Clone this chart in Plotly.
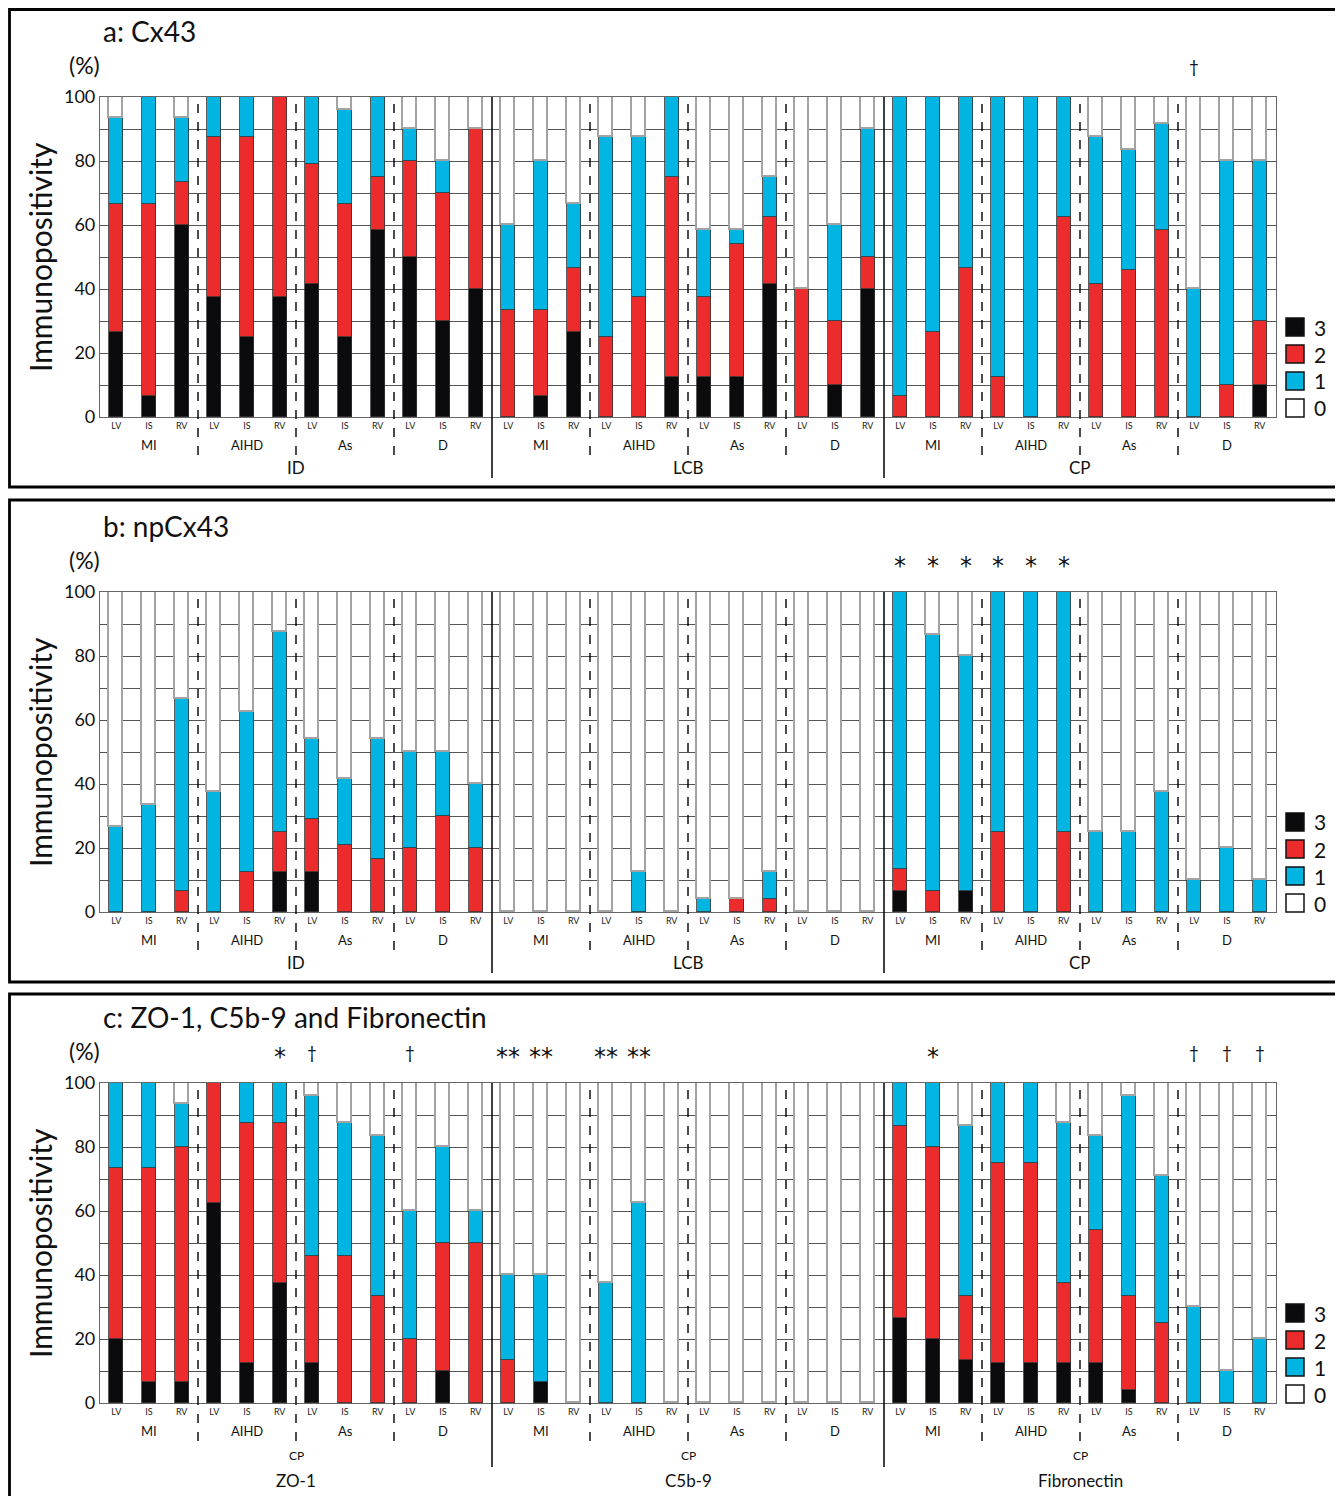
import plotly.graph_objects as go

W, H = 1343, 1496
FONT = "Lato"
OFF = 8  # page body margin compensation (px)

# ---------------- data ----------------
positions = ["LV", "IS", "RV"]
subgroups = ["MI", "AIHD", "As", "D"]
groups_ab = ["ID", "LCB", "CP"]
groups_c = ["ZO-1", "C5b-9", "Fibronectin"]
scores = ["3", "2", "1", "0"]

# Panel a: Cx43 (percent of cases with score 3 / 2 / 1)
cx43_s3 = [26.7, 6.7, 60, 37.5, 25, 37.5, 41.7, 25, 58.3, 50, 30, 40,
           0, 6.7, 26.7, 0, 0, 12.5, 12.5, 12.5, 41.7, 0, 10, 40,
           0, 0, 0, 0, 0, 0, 0, 0, 0, 0, 0, 10]
cx43_s2 = [40, 60, 13.3, 50, 62.5, 62.5, 37.5, 41.7, 16.7, 30, 40, 50,
           33.3, 26.7, 20, 25, 37.5, 62.5, 25, 41.7, 20.8, 40, 20, 10,
           6.7, 26.7, 46.7, 12.5, 0, 62.5, 41.7, 45.8, 58.3, 0, 10, 20]
cx43_s1 = [26.7, 33.3, 20, 12.5, 12.5, 0, 20.8, 29.2, 25, 10, 10, 0,
           26.7, 46.7, 20, 62.5, 50, 25, 20.8, 4.2, 12.5, 0, 30, 40,
           93.3, 73.3, 53.3, 87.5, 100, 37.5, 45.8, 37.5, 33.3, 40, 70, 50]

# Panel b: npCx43
np_s3 = [0, 0, 0, 0, 0, 12.5, 12.5, 0, 0, 0, 0, 0,
         0, 0, 0, 0, 0, 0, 0, 0, 0, 0, 0, 0,
         6.7, 0, 6.7, 0, 0, 0, 0, 0, 0, 0, 0, 0]
np_s2 = [0, 0, 6.7, 0, 12.5, 12.5, 16.7, 20.8, 16.7, 20, 30, 20,
         0, 0, 0, 0, 0, 0, 0, 4.2, 4.2, 0, 0, 0,
         6.7, 6.7, 0, 25, 0, 25, 0, 0, 0, 0, 0, 0]
np_s1 = [26.7, 33.3, 60, 37.5, 50, 62.5, 25, 20.8, 37.5, 30, 20, 20,
         0, 0, 0, 0, 12.5, 0, 4.2, 0, 8.3, 0, 0, 0,
         86.7, 80, 73.3, 75, 100, 75, 25, 25, 37.5, 10, 20, 10]

# Panel c: ZO-1, C5b-9, Fibronectin
c_s3 = [20, 6.7, 6.7, 62.5, 12.5, 37.5, 12.5, 0, 0, 0, 10, 0,
        0, 6.7, 0, 0, 0, 0, 0, 0, 0, 0, 0, 0,
        26.7, 20, 13.3, 12.5, 12.5, 12.5, 12.5, 4.2, 0, 0, 0, 0]
c_s2 = [53.3, 66.7, 73.3, 37.5, 75, 50, 33.3, 45.8, 33.3, 20, 40, 50,
        13.3, 0, 0, 0, 0, 0, 0, 0, 0, 0, 0, 0,
        60, 60, 20, 62.5, 62.5, 25, 41.7, 29.2, 25, 0, 0, 0]
c_s1 = [26.7, 26.7, 13.3, 0, 12.5, 12.5, 50, 41.7, 50, 40, 30, 10,
        26.7, 33.3, 0, 37.5, 62.5, 0, 0, 0, 0, 0, 0, 0,
        13.3, 20, 53.3, 25, 25, 50, 29.2, 62.5, 45.8, 30, 10, 20]

# significance marks: (bar index, symbol)
marks_a = [(33, "†")]
marks_b = [(24, "*"), (25, "*"), (26, "*"), (27, "*"), (28, "*"), (29, "*")]
marks_c = [(5, "*"), (6, "†"), (9, "†"), (12, "**"), (13, "**"), (15, "**"),
           (16, "**"), (25, "*"), (33, "†"), (34, "†"), (35, "†")]

titles = ["a: Cx43", "b: npCx43", "c: ZO-1, C5b-9 and Fibronectin"]

# ---------------- style ----------------
BLACK = "#0b0b0d"
RED = "#ec2c2c"
CYAN = "#00b5e2"
colors = [BLACK, RED, CYAN, "#ffffff"]

plot_left, plot_right = 100, 1276
tops = [97, 592, 1083]
bottoms = [417, 912, 1403]
boxes = [(9.5, 9.5, 1337, 487), (9.5, 500, 1337, 982), (9.5, 994, 1337, 1510)]


def px(v):
    return (v - OFF) / W


def py(v):
    return 1 - (v - OFF) / H


fig = go.Figure()
annotations = []
shapes = []

panels = [
    (cx43_s3, cx43_s2, cx43_s1, marks_a, groups_ab),
    (np_s3, np_s2, np_s1, marks_b, groups_ab),
    (c_s3, c_s2, c_s1, marks_c, groups_c),
]

n = 36
xs = list(range(n))
ticktext = positions * 12

for p, (s3, s2, s1, marks, gnames) in enumerate(panels):
    xa = "x" if p == 0 else f"x{p + 1}"
    ya = "y" if p == 0 else f"y{p + 1}"
    s0 = [max(0.0, round(100 - a - b - c, 2)) for a, b, c in zip(s3, s2, s1)]
    for vals, col, name in zip([s3, s2, s1, s0], colors, scores):
        fig.add_trace(go.Bar(
            x=xs, y=vals, width=0.42, name=name,
            marker=dict(color=col,
                        line=dict(color="#a3a3a3" if name == "0" else "#333333",
                                  width=1.8 if name == "0" else 0.8)),
            xaxis=xa, yaxis=ya, showlegend=False,
        ))

    top, bot = tops[p], bottoms[p]
    layout_x = dict(
        domain=[px(plot_left), px(plot_right)], range=[-0.5, n - 0.5],
        tickvals=xs, ticktext=ticktext, tickfont=dict(size=9, color="#222", family=FONT),
        ticks="", showgrid=False, zeroline=False, showline=True, mirror=True,
        linecolor="#666", linewidth=1.2, anchor=ya, fixedrange=True, automargin=False,
    )
    layout_y = dict(
        domain=[py(bot), py(top)], range=[0, 100],
        tickvals=list(range(0, 101, 10)),
        ticktext=[str(v) if v % 20 == 0 else "" for v in range(0, 101, 10)],
        tickfont=dict(size=18, color="#111", family=FONT),
        showgrid=True, gridcolor="#555555", gridwidth=1.2,
        zeroline=False, showline=True, mirror=True, linecolor="#666",
        linewidth=1.2, ticks="", anchor=xa, fixedrange=True, automargin=False,
    )
    fig.update_layout(**{("xaxis" if p == 0 else f"xaxis{p + 1}"): layout_x,
                         ("yaxis" if p == 0 else f"yaxis{p + 1}"): layout_y})

    # panel frame
    x0, y0, x1, y1 = boxes[p]
    shapes.append(dict(type="rect", xref="paper", yref="paper",
                       x0=px(x0), x1=px(x1), y0=py(y1), y1=py(y0),
                       line=dict(color="black", width=2.8)))

    # title, unit, y title
    annotations.append(dict(text=titles[p], xref="paper", yref="paper",
                            x=px(101), y=py(top - 66), xanchor="left", yanchor="middle",
                            showarrow=False, font=dict(size=28, family=FONT, color="#111")))
    annotations.append(dict(text="(%)", xref="paper", yref="paper",
                            x=px(84), y=py(top - 32), xanchor="center", yanchor="middle",
                            showarrow=False, font=dict(size=23, family=FONT, color="#111")))
    annotations.append(dict(text="Immunopositivity", xref="paper", yref="paper",
                            x=px(40), y=py((top + bot) / 2), textangle=-90,
                            xanchor="center", yanchor="middle", showarrow=False,
                            font=dict(size=30, family=FONT, color="#111")))

    # separators
    lower_dash = bot + 38
    lower_solid = bot + 61 if p < 2 else bot + 64
    for k in range(1, 12):
        xv = 3 * k - 0.5
        solid = (k % 4 == 0)
        shapes.append(dict(type="line", xref=xa, yref="paper",
                           x0=xv, x1=xv, y0=py(lower_solid if solid else lower_dash),
                           y1=py(top),
                           line=dict(color="black", width=1.5 if solid else 1.4,
                                     dash="solid" if solid else "dash")))

    # subgroup labels
    for g in range(3):
        for s, sg in enumerate(subgroups):
            annotations.append(dict(text=sg, xref=xa, yref="paper",
                                    x=12 * g + 3 * s + 1, y=py(bot + 28),
                                    showarrow=False, xanchor="center", yanchor="middle",
                                    font=dict(size=13, family=FONT, color="#111")))
        if p < 2:
            annotations.append(dict(text=gnames[g], xref=xa, yref="paper",
                                    x=12 * g + 5.5, y=py(bot + 50),
                                    showarrow=False, xanchor="center", yanchor="middle",
                                    font=dict(size=17, family=FONT, color="#111")))
        else:
            annotations.append(dict(text="CP", xref=xa, yref="paper",
                                    x=12 * g + 5.5, y=py(bot + 52),
                                    showarrow=False, xanchor="center", yanchor="middle",
                                    font=dict(size=12, family=FONT, color="#111")))
            annotations.append(dict(text=gnames[g], xref=xa, yref="paper",
                                    x=12 * g + 5.5, y=py(bot + 77),
                                    showarrow=False, xanchor="center", yanchor="middle",
                                    font=dict(size=17, family=FONT, color="#111")))

    # significance marks
    for idx, sym in marks:
        is_star = "*" in sym
        annotations.append(dict(text=sym, xref=xa, yref="paper",
                                x=idx, y=py(top - 31 + (5 if is_star else 0)), showarrow=False,
                                xanchor="center", yanchor="middle",
                                font=dict(size=24 if is_star else 17,
                                          family="DejaVu Sans" if is_star else FONT,
                                          color="#111")))

    # legend (score boxes)
    for i, (sc, col) in enumerate(zip(scores, colors)):
        cy = bot - 9 - (3 - i) * 27
        shapes.append(dict(type="rect", xref="paper", yref="paper",
                           x0=px(1286), x1=px(1304), y0=py(cy + 9), y1=py(cy - 9),
                           fillcolor=col, line=dict(color="#111", width=1.5)))
        annotations.append(dict(text=sc, xref="paper", yref="paper",
                                x=px(1320), y=py(cy), showarrow=False,
                                xanchor="center", yanchor="middle",
                                font=dict(size=21, family=FONT, color="#111")))

fig.update_layout(
    width=W, height=H, margin=dict(l=0, r=0, t=0, b=0, pad=0, autoexpand=False),
    barmode="stack", bargap=0, plot_bgcolor="white", paper_bgcolor="white",
    annotations=annotations, shapes=shapes, showlegend=False,
    font=dict(family=FONT),
)

fig.write_html("out.html")
